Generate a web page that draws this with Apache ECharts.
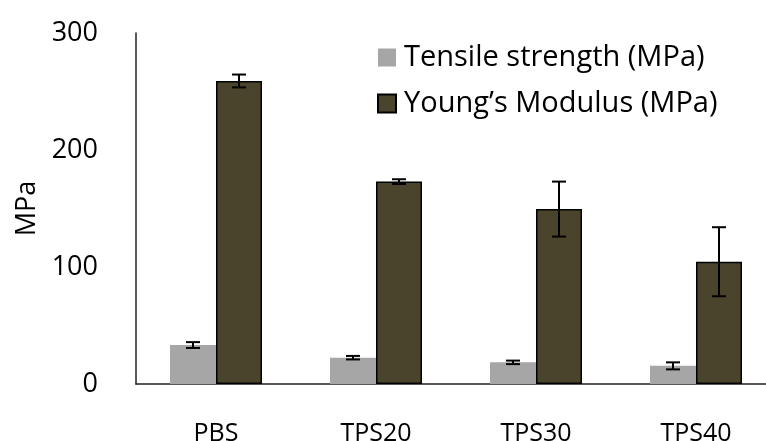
<!DOCTYPE html>
<html>
<head>
<meta charset="utf-8">
<script src="https://cdn.jsdelivr.net/npm/echarts@6/dist/echarts.min.js"></script>
<style>
  html, body { margin: 0; padding: 0; background: #fff; }
  #chart { width: 766px; height: 441px; }
</style>
</head>
<body>
<div id="chart"></div>
<script>
// Mechanical properties of PBS and its TPS blends
const categories = ['PBS', 'TPS20', 'TPS30', 'TPS40'];
const tensileStrength = [33.3, 22.5, 18.5, 15.5];
const tensileError = [2.5, 1.5, 1.5, 3.0];
const youngsModulus = [259, 173, 149.5, 104.5];
const youngsError = [5.5, 2, 23.5, 29.5];
const yTicks = [0, 100, 200, 300];

const FONT = 'Open Sans';
const BAR_W = 46;

function errorRows(values, errors) {
  return values.map((v, i) => [i, v - errors[i], v + errors[i]]);
}

function errorBarRenderer(offset) {
  return function (params, api) {
    const x = api.coord([api.value(0), 0])[0] + offset;
    const lo = api.coord([api.value(0), api.value(1)])[1];
    const hi = api.coord([api.value(0), api.value(2)])[1];
    const cap = 7;
    const style = { stroke: '#000', lineWidth: 2 };
    return {
      type: 'group',
      children: [
        { type: 'line', shape: { x1: x, y1: hi, x2: x, y2: lo }, style },
        { type: 'line', shape: { x1: x - cap, y1: hi, x2: x + cap, y2: hi }, style },
        { type: 'line', shape: { x1: x - cap, y1: lo, x2: x + cap, y2: lo }, style }
      ]
    };
  };
}

const chart = echarts.init(document.getElementById('chart'));
chart.setOption({
  animation: false,
  backgroundColor: '#fff',
  textStyle: { fontFamily: FONT },
  grid: { left: 136, right: -10, top: 33, bottom: 57, containLabel: false, outerBoundsMode: 'none' },
  legend: {
    orient: 'vertical',
    left: 377,
    top: 43,
    padding: 0,
    itemWidth: 18,
    itemHeight: 18,
    itemGap: 17,
    icon: 'rect',
    data: ['Tensile strength (MPa)', 'Young\u2019s Modulus (MPa)'],
    textStyle: { fontFamily: FONT, fontSize: 29, color: '#000', padding: [0, 0, 0, 3] }
  },
  xAxis: {
    type: 'category',
    data: categories,
    axisLine: { lineStyle: { color: '#222', width: 1.5 } },
    axisTick: { show: false },
    axisLabel: { fontFamily: FONT, fontSize: 25, color: '#000', margin: 37 }
  },
  yAxis: {
    type: 'value',
    min: yTicks[0],
    max: yTicks[yTicks.length - 1],
    interval: 100,
    name: 'MPa',
    nameLocation: 'middle',
    nameGap: 95,
    nameTextStyle: { fontFamily: FONT, fontSize: 27, color: '#000' },
    axisLine: { show: true, lineStyle: { color: '#222', width: 1.5 } },
    axisTick: { show: false },
    splitLine: { show: false },
    axisLabel: { fontFamily: FONT, fontSize: 27, color: '#000', margin: 38 }
  },
  series: [
    {
      name: 'Tensile strength (MPa)',
      type: 'bar',
      data: tensileStrength,
      barWidth: BAR_W,
      barGap: '0%',
      itemStyle: { color: '#a6a6a6' }
    },
    {
      name: 'Young\u2019s Modulus (MPa)',
      type: 'bar',
      data: youngsModulus,
      barWidth: BAR_W,
      itemStyle: { color: '#4a442c', borderColor: '#000', borderWidth: 1.5 }
    },
    {
      type: 'custom',
      name: 'tensile-error',
      data: errorRows(tensileStrength, tensileError),
      renderItem: errorBarRenderer(-BAR_W / 2),
      z: 10,
      silent: true
    },
    {
      type: 'custom',
      name: 'modulus-error',
      data: errorRows(youngsModulus, youngsError),
      renderItem: errorBarRenderer(BAR_W / 2),
      z: 10,
      silent: true
    }
  ]
});
</script>
</body>
</html>
